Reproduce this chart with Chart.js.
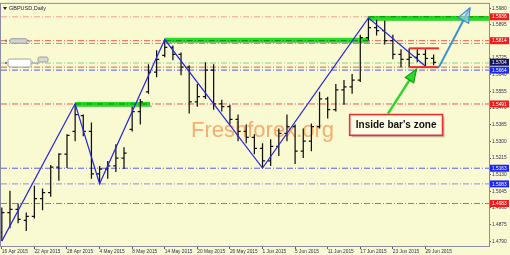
<!DOCTYPE html>
<html>
<head>
<meta charset="utf-8">
<script src="https://cdn.jsdelivr.net/npm/chart.js@4.4.0/dist/chart.umd.min.js"></script>
<style>
  html, body { margin: 0; padding: 0; background: #fafad2; }
  canvas { display: block; }
</style>
</head>
<body>
<canvas id="chart" width="510" height="255"></canvas>
<script>
// GBPUSD daily, 16 Apr - 30 Jun 2015 (bar index 0 = 16 Apr)
const DATES = ["16 Apr 2015","22 Apr 2015","28 Apr 2015","4 May 2015","8 May 2015","14 May 2015","20 May 2015",
               "26 May 2015","1 Jun 2015","5 Jun 2015","11 Jun 2015","17 Jun 2015","23 Jun 2015","29 Jun 2015"];
const TICK_BARS = [0,4,8,12,16,20,24,28,32,36,40,44,48,52];

const OPEN  = [1.4837,1.4937,1.4953,1.4897,1.4917,1.5008,1.5038,1.5169,1.5235,1.5351,1.5432,1.5351,1.5134,1.5159,
               1.5175,1.5215,1.5361,1.5452,1.5553,1.5654,1.5739,1.5780,1.5744,1.5679,1.5502,1.5528,1.5664,1.5492,
               1.5477,1.5412,1.5351,1.5321,1.5265,1.5200,1.5275,1.5341,1.5376,1.5250,1.5301,1.5376,1.5517,1.5462,
               1.5563,1.5578,1.5613,1.5830,1.5881,1.5865,1.5815,1.5744,1.5719,1.5729,1.5744,1.5724];
const HIGH  = [1.4963,1.5048,1.4983,1.4937,1.5074,1.5059,1.5180,1.5240,1.5336,1.5492,1.5437,1.5396,1.5175,1.5200,
               1.5285,1.5270,1.5477,1.5517,1.5694,1.5765,1.5820,1.5790,1.5754,1.5689,1.5593,1.5704,1.5694,1.5512,
               1.5487,1.5437,1.5386,1.5336,1.5290,1.5311,1.5366,1.5437,1.5386,1.5366,1.5391,1.5553,1.5528,1.5593,
               1.5613,1.5644,1.5845,1.5931,1.5921,1.5916,1.5845,1.5770,1.5775,1.5770,1.5770,1.5744];
const LOW   = [1.4791,1.4857,1.4882,1.4842,1.4907,1.4948,1.5018,1.5099,1.5164,1.5301,1.5326,1.5109,1.5084,1.5109,
               1.5144,1.5159,1.5351,1.5386,1.5543,1.5628,1.5729,1.5714,1.5638,1.5442,1.5477,1.5517,1.5462,1.5452,
               1.5386,1.5301,1.5290,1.5235,1.5164,1.5175,1.5225,1.5301,1.5185,1.5215,1.5250,1.5366,1.5417,1.5452,
               1.5487,1.5543,1.5603,1.5815,1.5840,1.5795,1.5719,1.5679,1.5679,1.5704,1.5684,1.5689];
const CLOSE = [1.4937,1.4953,1.4902,1.4917,1.5008,1.5038,1.5169,1.5235,1.5331,1.5437,1.5351,1.5134,1.5159,1.5175,
               1.5215,1.5240,1.5452,1.5502,1.5654,1.5719,1.5780,1.5744,1.5679,1.5502,1.5528,1.5664,1.5492,1.5477,
               1.5412,1.5351,1.5321,1.5265,1.5200,1.5275,1.5341,1.5376,1.5250,1.5301,1.5376,1.5517,1.5462,1.5563,
               1.5578,1.5613,1.5830,1.5881,1.5865,1.5815,1.5744,1.5719,1.5729,1.5744,1.5724,1.5704];

const PRICE_TICKS = [1.4790,1.4875,1.4960,1.5045,1.5130,1.5215,1.5300,1.5385,1.5470,1.5555,1.5640,1.5725,1.5810,1.5895,1.5980];

const ZIGZAG_BARS   = [0, 9, 12, 20, 32, 45, 52];
const ZIGZAG_PRICES = [1.4791, 1.5492, 1.5084, 1.5820, 1.5164, 1.5931, 1.5684];

// horizontal levels
const LEVELS      = [1.5936, 1.5814, 1.5800, 1.5700, 1.5679, 1.5664, 1.5491, 1.5163, 1.5083, 1.4983];
const LEVEL_KINDS = ["salmon","red","red2","green","red","blue","red","blue","lav","red"];

// resistance zones (green)
const ZONE_START = [9, 20, 45];
const ZONE_END   = [18.2, 45, 59.8];
const ZONE_PRICE = [1.5490, 1.5817, 1.5929];
const ZONE_LINE  = [1.5491, 1.5814, 1.5936];

// inside bar box
const BOX_BARS   = [50, 53.65];
const BOX_PRICES = [1.5775, 1.5679];

// arrows: [x0, x1], [p0, p1]
const BLUE_ARROW_BARS   = [53.65, 57.45];
const BLUE_ARROW_PRICES = [1.5679, 1.5981];
const GREEN_ARROW_BARS   = [47.4, 50.9];
const GREEN_ARROW_PRICES = [1.5442, 1.5669];

// callout corners
const NOTE_BARS   = [42.7, 54.1];
const NOTE_PRICES = [1.5437, 1.5331];
const NOTE_TEXT   = "Inside bar's zone";

// price axis markers
const MARK_PRICES = [1.5936, 1.5814, 1.5704, 1.5664, 1.5491, 1.5163, 1.5083, 1.4983];
const MARK_KINDS  = ["red","red","bid","blue","red","blue","blue","red"];

const X_MIN = -0.1, X_MAX = 59.8;
const Y_MIN = 1.4766, Y_MAX = 1.6002;

const COLORS = {
  bg: "#fafad2", salmon: "#f4a292", red: "#f0574e", red2: "#ee7a6c", green: "#86d486",
  blue: "#5a5af2", lav: "#8c8cf0", bars: "#101010", zig: "#2626e4", zone: "#1de21d",
};
const MARK_BG = { red: "#f01c1c", blue: "#1c28f8", bid: "#14145a" };
const FONT = "Liberation Sans";

const datasets = [];

LEVELS.forEach((p, k) => {
  datasets.push({
    data: [{ x: X_MIN, y: p }, { x: X_MAX, y: p }],
    borderColor: COLORS[LEVEL_KINDS[k]], borderWidth: 1, borderDash: [6, 2, 1, 2], order: 60,
  });
});

ZONE_PRICE.forEach((p, k) => {
  datasets.push({
    data: [{ x: ZONE_START[k] + 0.2, y: p - 0.0011 }, { x: ZONE_END[k] + 0.2, y: p - 0.0011 }],
    borderColor: "rgba(95,95,95,0.45)", borderWidth: 2, order: 56,
  });
  datasets.push({
    data: [{ x: ZONE_START[k], y: p }, { x: ZONE_END[k], y: p }],
    borderColor: COLORS.zone, borderWidth: 4.5, order: 55,
  });
  datasets.push({
    data: [{ x: ZONE_START[k], y: ZONE_LINE[k] }, { x: ZONE_END[k], y: ZONE_LINE[k] }],
    borderColor: "#0f7d0f", borderWidth: 1, borderDash: [6, 2, 1, 2], order: 54,
  });
});

// OHLC bars as one broken line
const ohlc = [];
OPEN.forEach((o, i) => {
  ohlc.push({ x: i, y: LOW[i] }, { x: i, y: HIGH[i] }, { x: i, y: null });
  ohlc.push({ x: i - 0.32, y: o }, { x: i, y: o }, { x: i, y: null });
  ohlc.push({ x: i, y: CLOSE[i] }, { x: i + 0.32, y: CLOSE[i] }, { x: i, y: null });
});
datasets.push({ data: ohlc, borderColor: COLORS.bars, borderWidth: 1.25, order: 30 });

datasets.push({
  data: ZIGZAG_BARS.map((b, k) => ({ x: b, y: ZIGZAG_PRICES[k] })),
  borderColor: COLORS.zig, borderWidth: 1.2, order: 20,
});

BOX_PRICES.forEach(p => {
  datasets.push({
    data: [{ x: BOX_BARS[0], y: p }, { x: BOX_BARS[1], y: p }],
    borderColor: "#f22a2a", borderWidth: 2, order: 10,
  });
});

datasets.push({
  data: BLUE_ARROW_BARS.map((b, k) => ({ x: b, y: BLUE_ARROW_PRICES[k] })),
  borderColor: "#3a8ed4", borderWidth: 2, order: 5,
});
datasets.push({
  data: GREEN_ARROW_BARS.map((b, k) => ({ x: b, y: GREEN_ARROW_PRICES[k] })),
  borderColor: "#2cd82c", borderWidth: 2.5, order: 4,
});

function arrowHead(ctx, x0, y0, x1, y1, len, half, fill, stroke) {
  const a = Math.atan2(y1 - y0, x1 - x0);
  const bx = x1 - len * Math.cos(a), by = y1 - len * Math.sin(a);
  ctx.beginPath();
  ctx.moveTo(x1, y1);
  ctx.lineTo(bx + half * Math.sin(a), by - half * Math.cos(a));
  ctx.lineTo(bx - half * Math.sin(a), by + half * Math.cos(a));
  ctx.closePath();
  ctx.fillStyle = fill; ctx.fill();
  ctx.strokeStyle = stroke; ctx.lineWidth = 1.2; ctx.stroke();
}

function roundBox(ctx, x, y, w, h, r, fill, stroke) {
  ctx.beginPath();
  ctx.roundRect(x, y, w, h, r);
  ctx.fillStyle = fill; ctx.fill();
  ctx.strokeStyle = stroke; ctx.lineWidth = 1; ctx.stroke();
}

const decor = {
  id: "decor",
  beforeDraw(chart) {
    const ctx = chart.ctx;
    ctx.save();
    ctx.fillStyle = COLORS.bg;
    ctx.fillRect(0, 0, chart.width, chart.height);
    ctx.restore();
  },
  beforeDatasetsDraw(chart) {
    const { ctx, chartArea: a } = chart;
    ctx.save();
    ctx.font = `22px "${FONT}"`;
    ctx.fillStyle = "rgba(246,150,84,0.78)";
    ctx.textBaseline = "alphabetic";
    ctx.fillText("Freshforex.org", a.left + 190, 137);
    ctx.restore();
  },
  afterDraw(chart) {
    const { ctx, chartArea: a } = chart;
    const xs = chart.scales.x, ys = chart.scales.y;
    ctx.save();

    // frame
    ctx.strokeStyle = "#8c8ca0"; ctx.lineWidth = 1;
    ctx.strokeRect(a.left - 0.5, a.top - 0.5, a.right - a.left + 1, a.bottom - a.top + 1);

    // arrow heads
    arrowHead(ctx, xs.getPixelForValue(BLUE_ARROW_BARS[0]), ys.getPixelForValue(BLUE_ARROW_PRICES[0]),
              xs.getPixelForValue(BLUE_ARROW_BARS[1]), ys.getPixelForValue(BLUE_ARROW_PRICES[1]),
              14, 6, "rgba(170,210,240,0.6)", "#3a8ed4");
    arrowHead(ctx, xs.getPixelForValue(GREEN_ARROW_BARS[0]), ys.getPixelForValue(GREEN_ARROW_PRICES[0]),
              xs.getPixelForValue(GREEN_ARROW_BARS[1]), ys.getPixelForValue(GREEN_ARROW_PRICES[1]),
              13, 5, "#2cd82c", "#1a9a1a");

    // callout
    const nx0 = xs.getPixelForValue(NOTE_BARS[0]), nx1 = xs.getPixelForValue(NOTE_BARS[1]);
    const ny0 = ys.getPixelForValue(NOTE_PRICES[0]), ny1 = ys.getPixelForValue(NOTE_PRICES[1]);
    ctx.fillStyle = "rgba(120,120,120,0.45)";
    ctx.fillRect(nx0 + 2, ny0 + 2, nx1 - nx0, ny1 - ny0);
    ctx.fillStyle = "#fcfce6";
    ctx.fillRect(nx0, ny0, nx1 - nx0, ny1 - ny0);
    ctx.strokeStyle = "#e4312c"; ctx.lineWidth = 1.6;
    ctx.strokeRect(nx0, ny0, nx1 - nx0, ny1 - ny0);
    ctx.font = `bold 10px "${FONT}"`;
    ctx.fillStyle = "#111";
    ctx.textAlign = "center"; ctx.textBaseline = "middle";
    ctx.fillText(NOTE_TEXT, (nx0 + nx1) / 2, (ny0 + ny1) / 2 + 0.5);

    // tags near the left
    const tA = ys.getPixelForValue(LEVELS[1]), tB = ys.getPixelForValue(LEVELS[3]);
    roundBox(ctx, a.left + 9, tA - 2, 17, 4.5, 1.5, "#d2d2d2", "#9c9c9c");
    roundBox(ctx, a.left + 7, tB - 4, 23, 8, 1.5, "#ffffff", "#a2a2a2");
    roundBox(ctx, a.left + 37, tB - 6, 10, 5, 1.5, "#d8d8d8", "#9c9c9c");
    ctx.fillStyle = "#7a7a9a";
    ctx.fillRect(a.left + 4, tA - 1, 2, 2);
    ctx.fillRect(a.left + 4, tB - 1, 2, 2);
    ctx.font = `4px "${FONT}"`;
    ctx.textAlign = "left"; ctx.textBaseline = "middle";
    ctx.fillText("tp", a.left + 27, tA);
    ctx.fillText("buy", a.left + 31, tB);

    // price axis markers
    ctx.font = `4.8px "${FONT}"`;
    MARK_PRICES.forEach((p, k) => {
      const y = ys.getPixelForValue(p);
      ctx.fillStyle = MARK_BG[MARK_KINDS[k]];
      ctx.fillRect(a.right + 1, y - 3.5, 19, 7);
      ctx.fillStyle = "#ffffff";
      ctx.textAlign = "left"; ctx.textBaseline = "middle";
      ctx.fillText(p.toFixed(4), a.right + 3, y + 0.3);
    });

    // title
    ctx.fillStyle = "#202046";
    ctx.beginPath();
    ctx.moveTo(a.left + 2, a.top + 3); ctx.lineTo(a.left + 6, a.top + 3); ctx.lineTo(a.left + 4, a.top + 6);
    ctx.closePath(); ctx.fill();
    ctx.font = `5.5px "${FONT}"`;
    ctx.textAlign = "left"; ctx.textBaseline = "middle";
    ctx.fillText("GBPUSD,Daily", a.left + 8, a.top + 4.5);
    ctx.restore();
  },
};

new Chart(document.getElementById("chart"), {
  type: "line",
  data: { datasets },
  options: {
    responsive: false, animation: false, events: [],
    layout: { padding: { left: 1, top: 1, right: 0, bottom: 0 } },
    elements: { point: { radius: 0 }, line: { tension: 0 } },
    plugins: { legend: { display: false }, tooltip: { enabled: false } },
    scales: {
      x: {
        type: "linear", min: X_MIN, max: X_MAX,
        afterBuildTicks: s => { s.ticks = TICK_BARS.map(v => ({ value: v })); },
        afterFit: s => { s.height = 9; },
        ticks: {
          autoSkip: false, maxRotation: 0, align: "start", padding: 0,
          callback: v => DATES[TICK_BARS.indexOf(v)],
          font: { family: FONT, size: 4.8 }, color: "#30304c",
        },
        grid: { drawOnChartArea: false, tickLength: 3, color: "#55556a" },
        border: { display: true, color: "#8c8ca0" },
      },
      y: {
        type: "linear", position: "right", min: Y_MIN, max: Y_MAX,
        afterBuildTicks: s => { s.ticks = PRICE_TICKS.map(v => ({ value: v })); },
        afterFit: s => { s.width = 21; },
        ticks: {
          padding: 1, callback: v => v.toFixed(4),
          font: { family: FONT, size: 4.8 }, color: "#30304c",
        },
        grid: { drawOnChartArea: false, tickLength: 2, color: "#55556a" },
        border: { display: true, color: "#8c8ca0" },
      },
    },
  },
  plugins: [decor],
});
</script>
</body>
</html>
